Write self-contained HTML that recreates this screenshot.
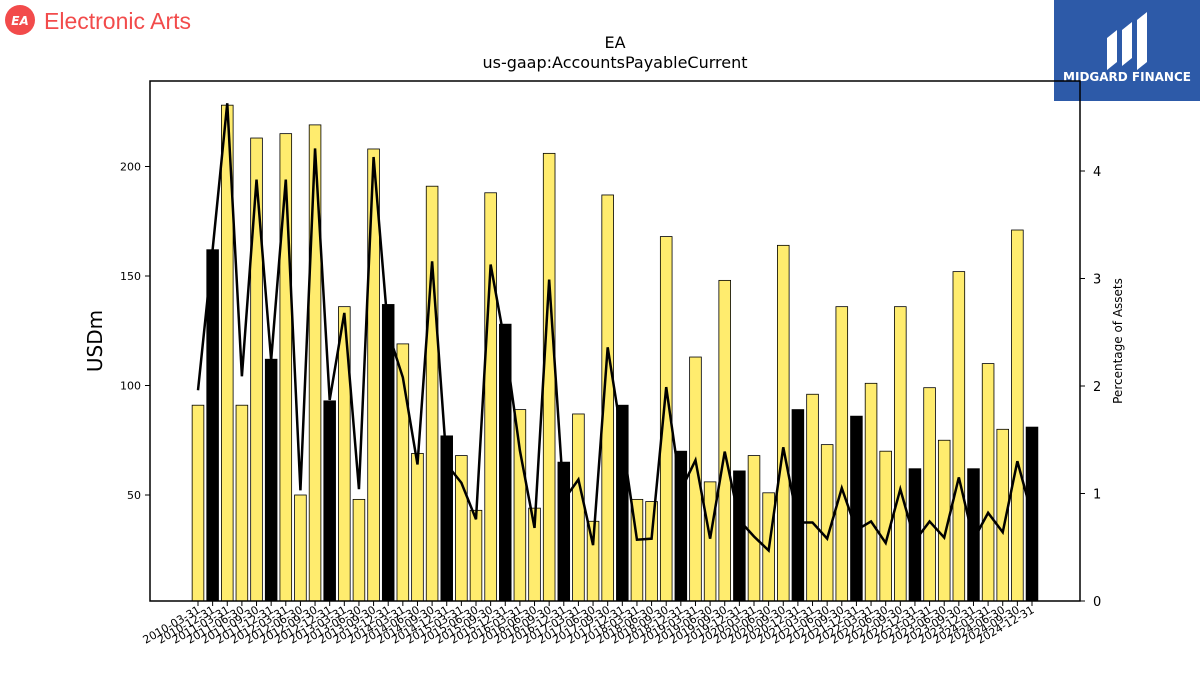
<!DOCTYPE html>
<html><head><meta charset="utf-8"><style>
body{margin:0;background:#fff;width:1200px;height:675px;overflow:hidden;font-family:"DejaVu Sans","Liberation Sans",sans-serif}
svg text{font-family:"DejaVu Sans","Liberation Sans",sans-serif}
</style></head><body>
<svg id="c" width="1200" height="675" xmlns="http://www.w3.org/2000/svg">
<g>
<circle cx="20" cy="20" r="15" fill="#f24b4b"/>
<text x="20" y="25" font-size="12" font-weight="bold" font-style="italic" fill="#fff" text-anchor="middle">EA</text>
<text x="44" y="29" font-size="23" fill="#f24b4b" style="font-family:'Liberation Sans',sans-serif">Electronic Arts</text>
</g>
<g>
<rect x="1054" y="0" width="146" height="101" fill="#2d5aa8"/>
<path d="M1107 70 L1107 38 L1117 30 L1117 62 Z M1122 66 L1122 30 L1132 22 L1132 58 Z M1137 70 L1137 20 L1147 12 L1147 62 Z" fill="#fff"/>
<text x="1127" y="81" font-size="12" font-weight="bold" fill="#fff" text-anchor="middle">MIDGARD FINANCE</text>
</g>
<text x="615" y="48" font-size="16" text-anchor="middle">EA</text>
<text x="615" y="68" font-size="16" text-anchor="middle">us-gaap:AccountsPayableCurrent</text>
<g id="plot"></g>
<rect x="150" y="81" width="930" height="520" fill="none" stroke="#000" stroke-width="1.5"/>
<text transform="translate(102,341) rotate(-90)" font-size="20" text-anchor="middle">USDm</text>
<text transform="translate(1122,341) rotate(-90)" font-size="12" text-anchor="middle">Percentage of Assets</text>
</svg>
<script>
const categories=["2010-03-31","2010-12-31"];
for(let y=2011;y<=2024;y++){for(const q of ["03-31","06-30","09-30","12-31"])categories.push(y+"-"+q);}
const payables=[91,162,228,91,213,112,215,50,219,93,136,48,208,137,119,69,191,77,68,43,188,128,89,44,206,65,87,38,187,91,48,47,168,70,113,56,148,61,68,51,164,89,96,73,136,86,101,70,136,62,99,75,152,62,110,80,171,81];
const pctAssets=[1.96,3.27,4.63,2.09,3.92,2.24,3.92,1.03,4.21,1.87,2.68,1.04,4.13,2.5,2.08,1.27,3.16,1.27,1.1,0.76,3.13,2.38,1.4,0.68,2.99,0.94,1.13,0.52,2.36,1.5,0.57,0.58,1.99,1.03,1.31,0.58,1.39,0.75,0.6,0.47,1.43,0.73,0.73,0.58,1.05,0.66,0.74,0.54,1.04,0.56,0.74,0.59,1.15,0.57,0.82,0.64,1.3,0.8];
const leftTicks=[50,100,150,200];
const rightTicks=[0,1,2,3,4];
const NS="http://www.w3.org/2000/svg";
const g=document.getElementById("plot");
const x0=198,dx=(1032-198)/57;
const xs=i=>x0+i*dx;
const yL=v=>604.5-v*2.19;
const yR=p=>601-p*107.5;
function mk(t,a){const e=document.createElementNS(NS,t);for(const k in a)e.setAttribute(k,a[k]);g.appendChild(e);return e;}
payables.forEach((v,i)=>{
 const top=yL(v);
 const r=mk("rect",{x:xs(i)-dx*0.4,y:top,width:dx*0.8,height:601-top,fill:(i%4==1)?"#000":"#ffec6e",stroke:"#000","stroke-width":0.8});
 
 
});
const pl=mk("polyline",{points:pctAssets.map((p,i)=>xs(i)+","+yR(p)).join(" "),fill:"none",stroke:"#000","stroke-width":2.5});


leftTicks.forEach(v=>{
 mk("line",{x1:145,x2:150,y1:yL(v),y2:yL(v),stroke:"#000"});
 const t=mk("text",{x:141,y:yL(v)+4,"font-size":11,"text-anchor":"end"});t.textContent=v;
 
 
});
rightTicks.forEach(v=>{
 mk("line",{x1:1080,x2:1085,y1:yR(v),y2:yR(v),stroke:"#000"});
 const t=mk("text",{x:1093,y:yR(v)+5,"font-size":13});t.textContent=v;
 
 
});
categories.forEach((c,i)=>{
 mk("line",{x1:xs(i),x2:xs(i),y1:601,y2:606,stroke:"#000"});
 const t=mk("text",{transform:`translate(${xs(i)+3},${612}) rotate(-30)`,"font-size":11,"text-anchor":"end"});t.textContent=c;
 
 
});
</script>
</body></html>
